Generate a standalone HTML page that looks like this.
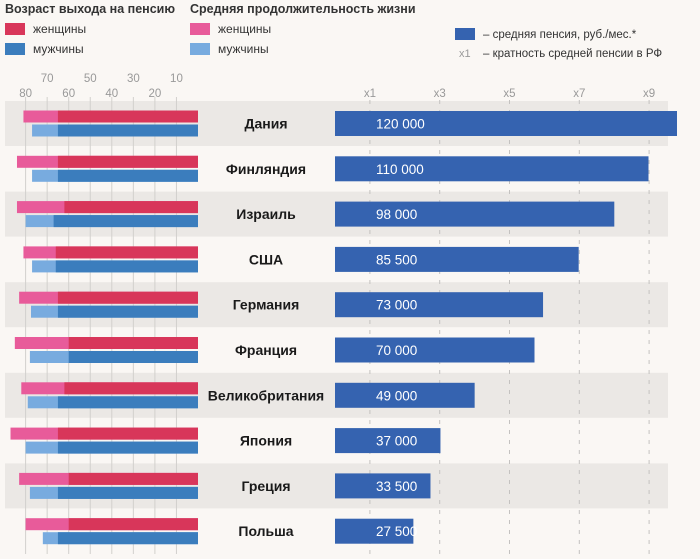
<!DOCTYPE html>
<html><head><meta charset="utf-8">
<style>
html,body{margin:0;padding:0;background:#faf7f4;}
body{width:700px;height:554px;overflow:hidden;font-family:"Liberation Sans","DejaVu Sans",sans-serif;}
svg text{font-family:"Liberation Sans","DejaVu Sans",sans-serif;}
</style></head>
<body>
<svg id="chart" width="700" height="554" xmlns="http://www.w3.org/2000/svg">
<rect x="0" y="0" width="700" height="554" fill="#faf7f4"/>
<g>
<text x="5" y="13" font-size="12.5" font-weight="bold" fill="#333">Возраст выхода на пенсию</text>
<rect x="5" y="23" width="20" height="12" fill="#d8365a"/>
<text x="33" y="33" font-size="12" fill="#333">женщины</text>
<rect x="5" y="43" width="20" height="12" fill="#3b7dbd"/>
<text x="33" y="53" font-size="12" fill="#333">мужчины</text>
</g>
<g>
<text x="190" y="13" font-size="12.5" font-weight="bold" fill="#333">Средняя продолжительность жизни</text>
<rect x="190" y="23" width="20" height="12" fill="#e85b9a"/>
<text x="218" y="33" font-size="12" fill="#333">женщины</text>
<rect x="190" y="43" width="20" height="12" fill="#78abdf"/>
<text x="218" y="53" font-size="12" fill="#333">мужчины</text>
</g>
<g>
<rect x="455" y="28" width="20" height="12" fill="#3563b0"/>
<text x="483" y="38" font-size="11.5" fill="#333">– средняя пенсия, руб./мес.*</text>
<text x="459" y="57" font-size="11" fill="#999">x1</text>
<text x="483" y="57" font-size="11.5" fill="#333">– кратность средней пенсии в РФ</text>
</g>
<g id="bands"></g>
<g id="grid"></g>
<g id="marks"></g>
</svg>
<script>
const countries = ["Дания","Финляндия","Израиль","США","Германия","Франция","Великобритания","Япония","Греция","Польша"];
const lifeWomen = [81,84,84,81,83,85,82,87,83,80];
const lifeMen = [77,77,80,77,77.5,78,79,80,78,72];
const retireWomen = [65,65,62,66,65,60,62,65,60,60];
const retireMen = [65,65,67,66,65,60,65,65,65,65];
const pension = [120000,110000,98000,85500,73000,70000,49000,37000,33500,27500];
const pensionLabels = ["120 000","110 000","98 000","85 500","73 000","70 000","49 000","37 000","33 500","27 500"];
const ageTicks = [80,70,60,50,40,30,20,10];
const multTicks = [1,3,5,7,9];
const multTickLabels = ["x1","x3","x5","x7","x9"];

const NS="http://www.w3.org/2000/svg";
function mk(tag,attrs,parent,txt){const e=document.createElementNS(NS,tag);for(const k in attrs)e.setAttribute(k,attrs[k]);if(txt!=null)e.textContent=txt;parent.appendChild(e);return e;}
const ageX = a => 198 - a*2.155;
const penX = v => 335 + v*0.00285;
const multX = m => 335 + m*34.9;
const rowTop = i => 101 + i*45.3;
const rowC = i => rowTop(i) + 22.5;

const bands=document.getElementById('bands'), grid=document.getElementById('grid'), marks=document.getElementById('marks');
countries.forEach((c,i)=>{ if(i%2===0){
  const b=mk('rect',{x:5,y:rowTop(i),width:663,height:45,fill:'#ebe8e5'},bands);
  
  
}});
ageTicks.forEach((a,i)=>{
  const l=mk('line',{x1:ageX(a),x2:ageX(a),y1:97,y2:554,stroke:'#d2d0cd','stroke-width':1},grid);
  
  
  const t=mk('text',{x:ageX(a),y:i%2===0?97:82,'font-size':11.5,fill:'#999','text-anchor':'middle'},grid,String(a));
  
  
});
multTicks.forEach((m,i)=>{
  const l=mk('line',{x1:multX(m),x2:multX(m),y1:100,y2:554,stroke:'#c4c2c0','stroke-width':1,'stroke-dasharray':'4,6'},grid);
  
  
  const t=mk('text',{x:multX(m),y:97,'font-size':11.5,fill:'#999','text-anchor':'middle'},grid,multTickLabels[i]);
  
  
});
countries.forEach((c,i)=>{
  const cy=rowC(i);
  const lw=mk('rect',{x:ageX(lifeWomen[i]),y:cy-13,width:ageX(0)-ageX(lifeWomen[i]),height:12,fill:'#e85b9a'},marks);
  
  
  const rw=mk('rect',{x:ageX(retireWomen[i]),y:cy-13,width:ageX(0)-ageX(retireWomen[i]),height:12,fill:'#d8365a'},marks);
  
  
  const lm=mk('rect',{x:ageX(lifeMen[i]),y:cy+1,width:ageX(0)-ageX(lifeMen[i]),height:12,fill:'#78abdf'},marks);
  
  
  const rm=mk('rect',{x:ageX(retireMen[i]),y:cy+1,width:ageX(0)-ageX(retireMen[i]),height:12,fill:'#3b7dbd'},marks);
  
  
  const ct=mk('text',{x:266,y:cy+5,'font-size':14,'font-weight':'bold',fill:'#1a1a1a','text-anchor':'middle'},marks,c);
  
  
  const pb=mk('rect',{x:penX(0),y:cy-12.5,width:penX(pension[i])-penX(0),height:25,fill:'#3563b0'},marks);
  
  
  const pt=mk('text',{x:376,y:cy+5,'font-size':13.5,fill:'#fff'},marks,pensionLabels[i]);
  
  
});
</script>
</body></html>
